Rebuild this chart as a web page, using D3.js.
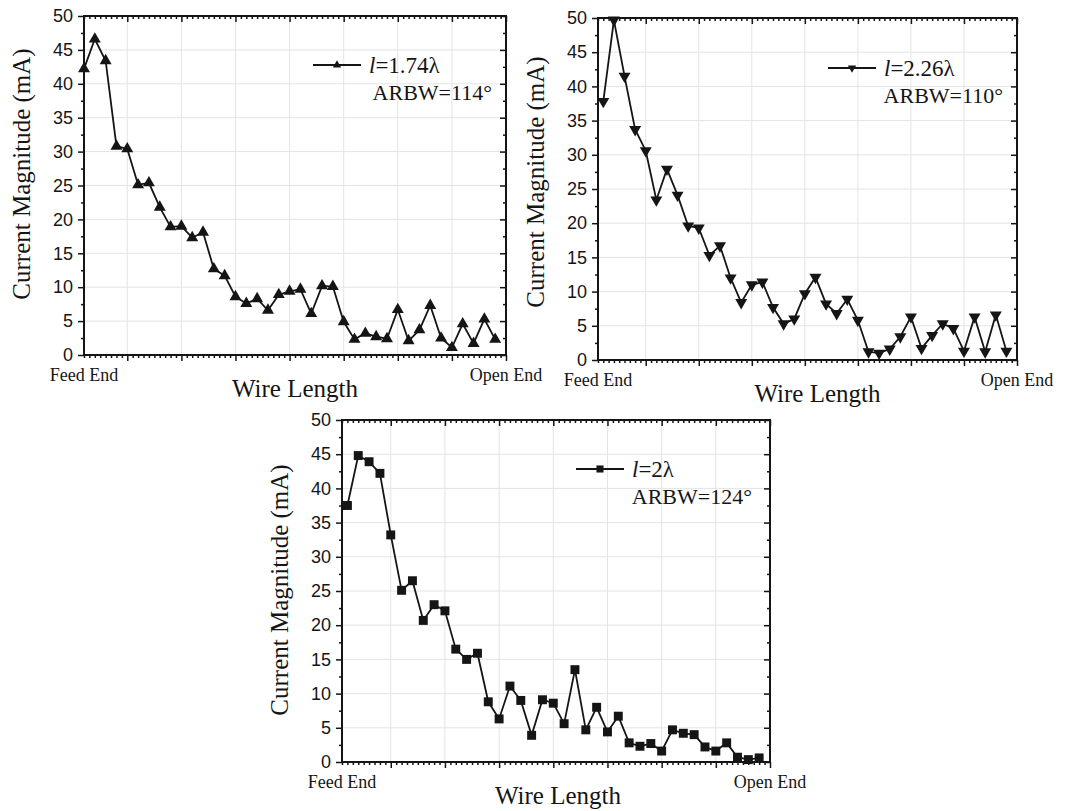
<!DOCTYPE html>
<html>
<head>
<meta charset="utf-8">
<script src="https://cdn.jsdelivr.net/npm/d3@7"></script>
<style>
  body { margin: 0; background: #fff; }
  svg { display: block; }
</style>
</head>
<body>
<div id="chart"></div>
<script>
// data: current magnitude (mA) per wire segment
const current174 = [42.2, 46.6, 43.4, 30.8, 30.4, 25.1, 25.4, 21.8, 18.9, 19.0,
    17.3, 18.1, 12.7, 11.7, 8.6, 7.6, 8.3, 6.6, 8.9, 9.4,
    9.7, 6.1, 10.2, 10.1, 4.9, 2.3, 3.2, 2.7, 2.4, 6.7,
    2.1, 3.7, 7.3, 2.5, 1.1, 4.6, 1.7, 5.3, 2.3];
const current226 = [37.8, 49.7, 41.5, 33.7, 30.6, 23.4, 27.9, 24.1, 19.6, 19.3,
    15.3, 16.7, 12.0, 8.4, 11.0, 11.4, 7.7, 5.3, 6.0, 9.7,
    12.1, 8.2, 6.8, 8.9, 5.8, 1.2, 1.0, 1.6, 3.4, 6.3,
    1.7, 3.6, 5.3, 4.6, 1.3, 6.3, 1.2, 6.6, 1.3];
const current200 = [37.5, 44.8, 43.9, 42.2, 33.2, 25.1, 26.5, 20.7, 23.0, 22.1,
    16.5, 15.0, 15.9, 8.8, 6.3, 11.1, 9.0, 3.9, 9.1, 8.6,
    5.6, 13.5, 4.7, 8.0, 4.4, 6.7, 2.8, 2.3, 2.7, 1.6,
    4.7, 4.2, 4.0, 2.2, 1.6, 2.8, 0.7, 0.35, 0.6];

// legend texts
const lengths = ["1.74λ", "2.26λ", "2λ"];
const arbws = ["ARBW=114°", "ARBW=110°", "ARBW=124°"];

// axis ticks and labels
const yTicks = [0, 5, 10, 15, 20, 25, 30, 35, 40, 45, 50];
const yMinorTicks = [2.5, 7.5, 12.5, 17.5, 22.5, 27.5, 32.5, 37.5, 42.5, 47.5];
const xMajorTicks = [5, 10, 15, 20, 25, 30, 35, 40];
const xEndLabels = ["Feed End", "Open End"];
const yTitle = "Current Magnitude (mA)";
const xTitle = "Wire Length";

const serif = "'Liberation Serif', 'Times New Roman', serif";
const sans = "'Liberation Sans', Arial, sans-serif";
const ink = "#151515";

const svg = d3.select("#chart")
    .append("svg")
    .attr("width", 1067)
    .attr("height", 811);

// one panel per wire length
const panels = [
    { data: current174, len: lengths[0], arbw: arbws[0], sym: d3.symbolTriangle, rot: 0,
      box: { x0: 84, y0: 16, x1: 506, y1: 355 }, xStart: 1,
      yTitleY: 174, xTitleDx: 0, legX: 229, legY: 49, arbwRight: 14 },
    { data: current226, len: lengths[1], arbw: arbws[1], sym: d3.symbolTriangle, rot: 180,
      box: { x0: 598, y0: 18, x1: 1017, y1: 360 }, xStart: 0.5,
      yTitleY: 182, xTitleDx: 10, legX: 230, legY: 50, arbwRight: 14 },
    { data: current200, len: lengths[2], arbw: arbws[2], sym: d3.symbolSquare, rot: 0,
      box: { x0: 342, y0: 420, x1: 770, y1: 762 }, xStart: 0.5,
      yTitleY: 590, xTitleDx: 2, legX: 234, legY: 49, arbwRight: 18 }
];

panels.forEach(function(p) {
    const b = p.box;
    const g = svg.append("g");

    const x = d3.scaleLinear().domain([p.xStart, 40]).range([b.x0, b.x1]);
    const y = d3.scaleLinear().domain([0, 50]).range([b.y1, b.y0]);
    const xMinor = d3.range(p.xStart, 40.01, 0.5).filter(v => xMajorTicks.indexOf(v) < 0);

    // grid
    g.selectAll(".vgrid").data(xMajorTicks.slice(0, -1)).join("line")
        .attr("x1", d => x(d)).attr("x2", d => x(d))
        .attr("y1", b.y0).attr("y2", b.y1)
        .attr("stroke", "#e4e4e4").attr("stroke-width", 1);
    g.selectAll(".hgrid").data(yTicks.slice(1, -1)).join("line")
        .attr("x1", b.x0).attr("x2", b.x1)
        .attr("y1", d => y(d)).attr("y2", d => y(d))
        .attr("stroke", "#e4e4e4").attr("stroke-width", 1);

    // axes: left/bottom outward, right/top inward
    const styleAxis = function(sel) {
        sel.select(".domain").remove();
        sel.selectAll("line").attr("stroke", ink).attr("stroke-width", 1.5);
        sel.selectAll("text").attr("fill", ink).style("font-family", sans).style("font-size", "18px");
    };
    g.append("g").attr("transform", `translate(${b.x0},0)`)
        .call(d3.axisLeft(y).tickValues(yTicks).tickSize(6).tickPadding(5)).call(styleAxis);
    g.append("g").attr("transform", `translate(${b.x0},0)`)
        .call(d3.axisLeft(y).tickValues(yMinorTicks).tickSize(3).tickFormat("")).call(styleAxis);
    g.append("g").attr("transform", `translate(${b.x1},0)`)
        .call(d3.axisRight(y).tickValues(yTicks).tickSize(-6).tickFormat("")).call(styleAxis);
    g.append("g").attr("transform", `translate(${b.x1},0)`)
        .call(d3.axisRight(y).tickValues(yMinorTicks).tickSize(-3).tickFormat("")).call(styleAxis);
    g.append("g").attr("transform", `translate(0,${b.y1})`)
        .call(d3.axisBottom(x).tickValues(xMajorTicks).tickSize(6).tickFormat("")).call(styleAxis);
    g.append("g").attr("transform", `translate(0,${b.y1})`)
        .call(d3.axisBottom(x).tickValues(xMinor).tickSize(3).tickFormat("")).call(styleAxis);
    g.append("g").attr("transform", `translate(0,${b.y0})`)
        .call(d3.axisTop(x).tickValues(xMajorTicks).tickSize(-6).tickFormat("")).call(styleAxis);
    g.append("g").attr("transform", `translate(0,${b.y0})`)
        .call(d3.axisTop(x).tickValues(xMinor).tickSize(-3).tickFormat("")).call(styleAxis);

    // frame
    g.append("rect")
        .attr("x", b.x0).attr("y", b.y0)
        .attr("width", b.x1 - b.x0).attr("height", b.y1 - b.y0)
        .attr("fill", "none").attr("stroke", ink).attr("stroke-width", 2);

    // line + markers
    const line = d3.line()
        .x((d, i) => x(i + 1))
        .y(d => y(d));
    g.append("path")
        .datum(p.data)
        .attr("d", line)
        .attr("fill", "none")
        .attr("stroke", ink)
        .attr("stroke-width", 1.8);

    const markSize = p.sym === d3.symbolSquare ? 80 : 62;
    g.selectAll(".mark").data(p.data).join("path")
        .attr("d", d3.symbol().type(p.sym).size(markSize))
        .attr("transform", (d, i) => `translate(${x(i + 1)},${y(d)}) rotate(${p.rot})`)
        .attr("fill", ink);

    // end labels and titles
    g.selectAll(".endlab").data(xEndLabels).join("text")
        .attr("x", (d, i) => i === 0 ? b.x0 : b.x1)
        .attr("y", b.y1 + 26)
        .attr("text-anchor", "middle")
        .style("font-family", serif).style("font-size", "18px")
        .attr("fill", ink)
        .text(d => d);

    g.append("text")
        .attr("x", (b.x0 + b.x1) / 2 + p.xTitleDx)
        .attr("y", b.y1 + 42)
        .attr("text-anchor", "middle")
        .style("font-family", serif).style("font-size", "25px")
        .attr("fill", ink)
        .text(xTitle);

    g.append("text")
        .attr("transform", `translate(${b.x0 - 54},${p.yTitleY}) rotate(-90)`)
        .attr("text-anchor", "middle")
        .style("font-family", serif).style("font-size", "25px")
        .attr("fill", ink)
        .text(yTitle);

    // legend
    const lx = b.x0 + p.legX, ly = b.y0 + p.legY;
    g.append("line")
        .attr("x1", lx).attr("x2", lx + 48)
        .attr("y1", ly).attr("y2", ly)
        .attr("stroke", ink).attr("stroke-width", 1.8);
    g.append("path")
        .attr("d", d3.symbol().type(p.sym).size(p.sym === d3.symbolSquare ? 50 : 30))
        .attr("transform", `translate(${lx + 24},${ly}) rotate(${p.rot})`)
        .attr("fill", ink);
    const lt = g.append("text")
        .attr("x", lx + 56).attr("y", ly + 8)
        .style("font-family", serif).style("font-size", "23px")
        .attr("fill", ink);
    lt.append("tspan").style("font-style", "italic").text("l");
    lt.append("tspan").text("=" + p.len);

    g.append("text")
        .attr("x", b.x1 - p.arbwRight).attr("y", ly + 35)
        .attr("text-anchor", "end")
        .style("font-family", serif).style("font-size", "22px")
        .attr("fill", ink)
        .text(p.arbw);
});
</script>
</body>
</html>
